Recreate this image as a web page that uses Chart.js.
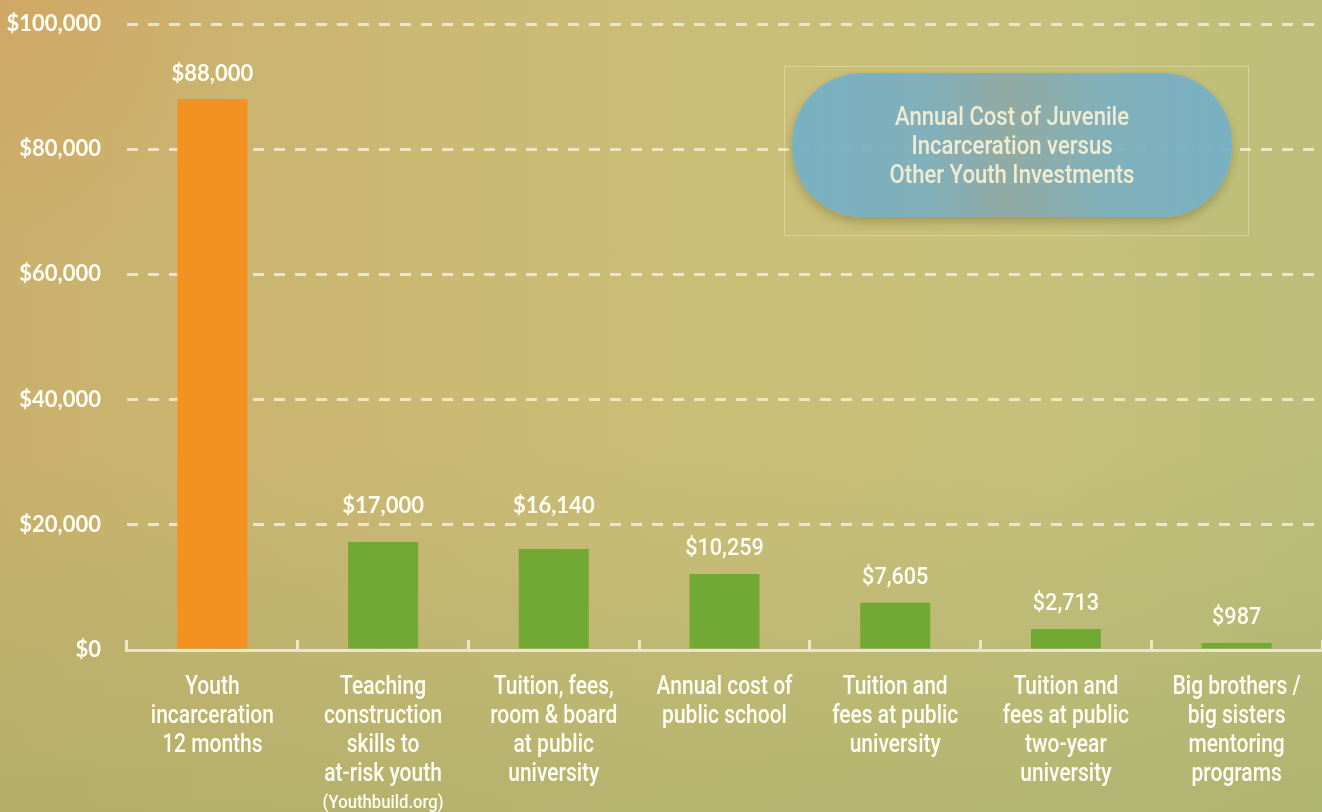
<!DOCTYPE html>
<html>
<head>
<meta charset="utf-8">
<script src="https://cdn.jsdelivr.net/npm/chart.js@4.4.1/dist/chart.umd.min.js"></script>
<style>
    html, body { margin: 0; padding: 0; }
    body {
        width: 1322px; height: 812px; overflow: hidden; position: relative;
        background:
            radial-gradient(circle at 0 0, rgba(214,160,96,0.55), rgba(214,160,96,0) 260px),
            linear-gradient(180deg, rgba(160,172,105,0) 55%, rgba(160,172,105,0.5) 100%),
            linear-gradient(90deg, #c9b16c 0%, #cbb873 30%, #cbbd76 50%, #c6c07b 80%, #bcbe79 100%);
    }
    #chart { position: absolute; left: 0; top: 0; }
    .frame {
        position: absolute; left: 784px; top: 66px; width: 465px; height: 170px;
        border: 1px solid rgba(255,250,225,0.35); box-sizing: border-box;
    }
    .pill {
        position: absolute; left: 792px; top: 73px; width: 440px; height: 144px;
        border-radius: 70px;
        background: linear-gradient(90deg, #74b1c6 0%, #7cb0c0 30%, #8ea9a6 50%, #7cb0c0 72%, #74b1c6 100%);
        opacity: 0.94;
        box-shadow: 0 5px 10px rgba(90,80,40,0.35);
        display: flex; align-items: center; justify-content: center; text-align: center;
    }
    .pill span {
        display: inline-block; white-space: nowrap;
        font-family: Roboto, sans-serif; font-weight: 500; font-size: 26px; line-height: 29px; color: #f3efd6;
        transform: scaleX(0.85);
    }
</style>
</head>
<body>
<canvas id="chart" width="1322" height="812"></canvas>
<div class="frame"></div>
<div class="pill"><span>Annual Cost of Juvenile<br>Incarceration versus<br>Other Youth Investments</span></div>

<script>
// ─── Data ────────────────────────────────────────────────────────────────────
const categories = [
    ['Youth', 'incarceration', '12 months'],
    ['Teaching', 'construction', 'skills to', 'at-risk youth'],
    ['Tuition, fees,', 'room & board', 'at public', 'university'],
    ['Annual cost of', 'public school'],
    ['Tuition and', 'fees at public', 'university'],
    ['Tuition and', 'fees at public', 'two-year', 'university'],
    ['Big brothers /', 'big sisters', 'mentoring', 'programs']
];
const categoryNotes = ['', '(Youthbuild.org)', '', '', '', '', ''];

// bar heights as drawn in the picture
const annualCost  = [88000, 17250, 16140, 12150, 7550, 3350, 1100];
// printed labels above the bars
const costLabels  = ['$88,000', '$17,000', '$16,140', '$10,259', '$7,605', '$2,713', '$987'];
const yTickLabels = ['$0', '$20,000', '$40,000', '$60,000', '$80,000', '$100,000'];

const ORANGE = '#f39220';
const GREEN  = '#72a834';
const CREAM  = '#ece5c6';
const WHITE  = '#fffdf4';

// condensed look: Roboto squeezed horizontally
function narrowText(ctx, text, x, y, squeeze) {
    ctx.save();
    ctx.translate(x, y);
    ctx.scale(squeeze, 1);
    ctx.fillText(text, 0, 0);
    ctx.restore();
}

// ─── Value labels, category labels, note ─────────────────────────────────────
const textLayer = {
    id: 'textLayer',
    afterDatasetsDraw(chart) {
        const ctx  = chart.ctx;
        const meta = chart.getDatasetMeta(0);
        const xs   = chart.scales.x;
        const ys   = chart.scales.y;
        const gridYs = ys.ticks.map(t => ys.getPixelForValue(t.value));

        ctx.save();
        ctx.fillStyle    = WHITE;
        ctx.textAlign    = 'center';
        ctx.textBaseline = 'middle';

        meta.data.forEach((bar, i) => {
            let y = bar.y - 25;
            // keep the label clear of a dashed grid line
            gridYs.forEach(g => { if (Math.abs(y - g) < 14) y = g - 19; });
            if (i < 3) {
                ctx.font = 'bold 22px Lato';
                ctx.fillText(costLabels[i], bar.x, y);
            } else {
                ctx.font = '500 24px Roboto';
                narrowText(ctx, costLabels[i], bar.x, y, 0.9);
            }
        });

        ctx.font = '500 25px Roboto';
        categories.forEach((lines, i) => {
            const cx = xs.getPixelForValue(i);
            lines.forEach((line, j) => {
                narrowText(ctx, line, cx, xs.top + 38 + j * 29, 0.84);
            });
        });

        ctx.font = '500 19px Roboto';
        categoryNotes.forEach((note, i) => {
            if (note) narrowText(ctx, note, xs.getPixelForValue(i), xs.top + 153, 0.88);
        });
        ctx.restore();
    }
};

new Chart(document.getElementById('chart'), {
    type: 'bar',
    data: {
        labels: categories.map(l => l.join(' ')),
        datasets: [{
            data: annualCost,
            backgroundColor: annualCost.map((v, i) => i === 0 ? ORANGE : GREEN),
            barPercentage: 0.41,
            categoryPercentage: 1
        }]
    },
    options: {
        responsive: false,
        animation: false,
        devicePixelRatio: 1,
        layout: { padding: { top: 24, left: 0, right: 0, bottom: 0 } },
        plugins: {
            legend:  { display: false },
            tooltip: { enabled: false }
        },
        scales: {
            x: {
                grid: {
                    drawOnChartArea: false,
                    color: CREAM,
                    lineWidth: 3,
                    tickLength: -10,
                    offset: true
                },
                border: { color: CREAM, width: 3 },
                ticks: { display: false },
                afterFit(scale) { scale.height = 162; }
            },
            y: {
                min: 0,
                max: 100000,
                ticks: {
                    stepSize: 20000,
                    color: WHITE,
                    font: { family: 'Lato', size: 22, weight: 'bold' },
                    padding: 26,
                    callback: v => yTickLabels[Math.round(v / 20000)]
                },
                grid: {
                    color: 'rgba(240,234,208,0.9)',
                    lineWidth: 3,
                    drawTicks: false
                },
                border: { display: false, dash: [11, 10] },
                afterFit(scale) {
                    scale.width = 127;
                    scale.paddingTop = 0;
                    scale.paddingBottom = 0;
                }
            }
        }
    },
    plugins: [textLayer]
});
</script>
</body>
</html>
